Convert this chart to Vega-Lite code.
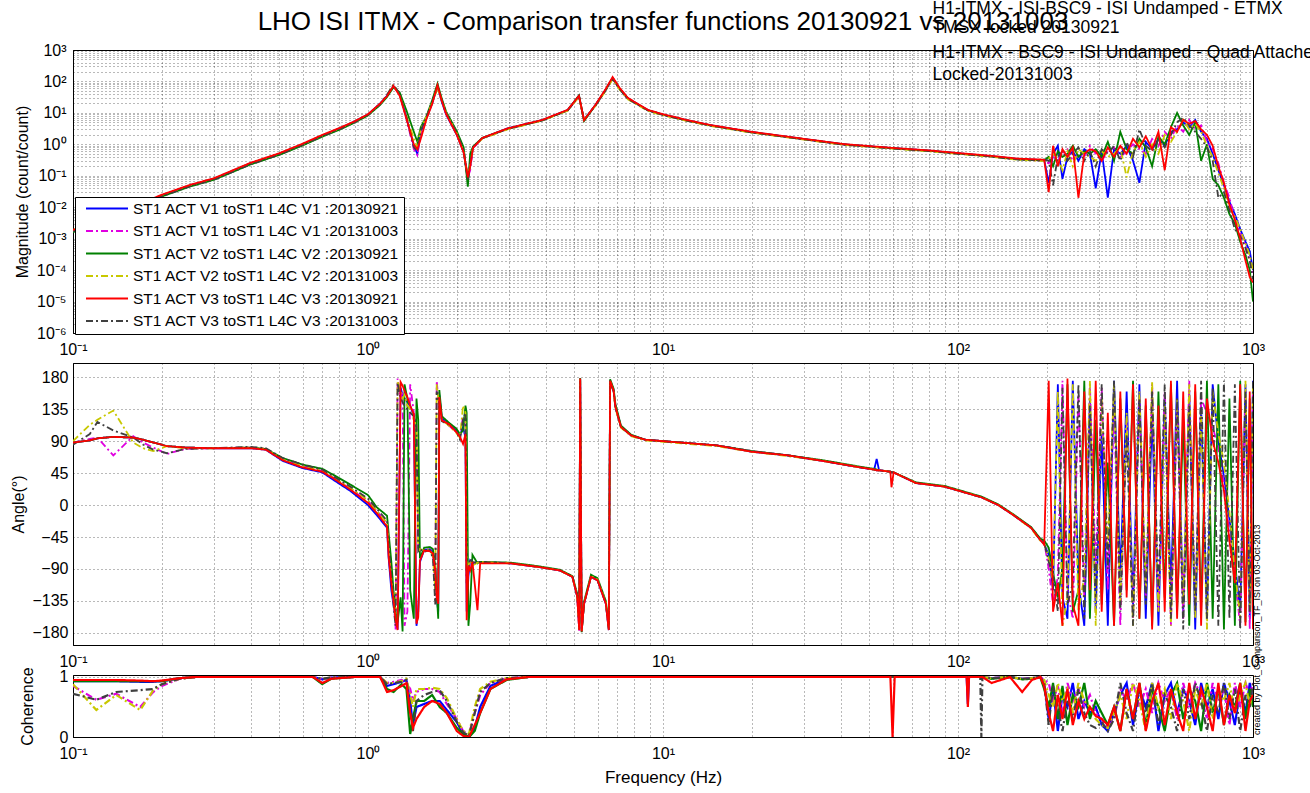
{
"$schema":"https://vega.github.io/schema/vega-lite/v6.json",
"autosize":{"type":"none"},
"padding":{"left":73,"top":50,"right":1237,"bottom":743},
"background":"white",
"config":{
 "font":"Liberation Sans",
 "view":{"stroke":"black","strokeWidth":1},
 "axis":{"labelFont":"Liberation Sans","labelFontSize":16,"labelColor":"black","titleFont":"Liberation Sans","titleFontSize":16,"titleFontWeight":"normal","titleColor":"black","grid":true,"gridColor":"black","gridDash":[1,3],"gridOpacity":0.55,"ticks":false,"domainColor":"black","labelOverlap":false,"labelFlush":false,"labelBound":false},
 "legend":{"orient":"none","legendX":2,"legendY":147,"fillColor":"white","strokeColor":"black","padding":4,"symbolType":"stroke","symbolSize":1764,"symbolStrokeWidth":2,"symbolOffset":6,"labelOffset":4,"labelFontSize":15.5,"labelFont":"Liberation Sans","labelColor":"black","labelLimit":400,"clipHeight":15,"rowPadding":6.5,"titlePadding":0}
},
"datasets":{
"mag":[
{"f":0.1,"b":0.0018,"m":0.0017,"g":0.0016,"y":0.0019,"k":0.0017,"r":0.0019},
{"f":0.125,"b":0.0041,"m":0.0039,"g":0.0037,"y":0.0042,"k":0.0038,"r":0.004},
{"f":0.15,"b":0.008,"m":0.0077,"g":0.0074,"y":0.0081,"k":0.0076,"r":0.0082},
{"f":0.2,"b":0.024,"m":0.023,"g":0.022,"y":0.024,"k":0.022,"r":0.025},
{"f":0.25,"b":0.05,"m":0.048,"g":0.046,"y":0.05,"k":0.047,"r":0.052},
{"f":0.3,"b":0.08,"m":0.077,"g":0.074,"y":0.079,"k":0.075,"r":0.083},
{"f":0.4,"b":0.25,"m":0.24,"g":0.23,"y":0.25,"k":0.23,"r":0.26},
{"f":0.5,"b":0.5,"m":0.48,"g":0.46,"y":0.5,"k":0.47,"r":0.52},
{"f":0.6,"b":1.0,"m":0.97,"g":0.92,"y":0.98,"k":0.95,"r":1.05},
{"f":0.7,"b":1.9,"m":1.85,"g":1.75,"y":1.85,"k":1.8,"r":2.0},
{"f":0.8,"b":3.2,"m":3.1,"g":2.9,"y":3.1,"k":3.0,"r":3.3},
{"f":0.9,"b":5.3,"m":5.1,"g":4.9,"y":5.1,"k":5.0,"r":5.4},
{"f":1.0,"b":8.9,"m":8.6,"g":8.3,"y":8.7,"k":8.5,"r":9.1},
{"f":1.1,"b":20,"m":19,"g":18,"y":19,"k":19,"r":20},
{"f":1.16,"b":35,"m":37,"g":32,"y":36,"k":38,"r":34},
{"f":1.22,"b":70,"m":76,"g":65,"y":80,"k":78,"r":72},
{"f":1.28,"b":42,"m":40,"g":45,"y":38,"k":40,"r":35},
{"f":1.35,"b":7,"m":6.5,"g":12,"y":8,"k":7.5,"r":6.5},
{"f":1.43,"b":0.9,"m":0.7,"g":2.5,"y":1.5,"k":0.8,"r":1.0},
{"f":1.47,"b":0.5,"m":0.45,"g":1.2,"y":0.8,"k":0.6,"r":0.7},
{"f":1.51,"b":2.5,"m":2.2,"g":3.5,"y":3.0,"k":2.8,"r":1.5},
{"f":1.58,"b":7.1,"m":7.5,"g":8,"y":7.8,"k":7.6,"r":6.5},
{"f":1.65,"b":20,"m":22,"g":25,"y":21,"k":22,"r":19},
{"f":1.72,"b":70,"m":65,"g":85,"y":60,"k":72,"r":76},
{"f":1.78,"b":22,"m":23,"g":28,"y":24,"k":25,"r":24},
{"f":1.84,"b":8.9,"m":9.5,"g":11,"y":10,"k":9.8,"r":9.2},
{"f":2.0,"b":2.0,"m":2.1,"g":2.6,"y":2.2,"k":2.3,"r":2.0},
{"f":2.11,"b":0.56,"m":0.6,"g":0.8,"y":0.55,"k":0.65,"r":0.55},
{"f":2.18,"b":0.08,"m":0.09,"g":0.045,"y":0.1,"k":0.07,"r":0.089},
{"f":2.22,"b":0.2,"m":0.15,"g":0.5,"y":0.2,"k":0.25,"r":0.2},
{"f":2.27,"b":0.79,"m":0.75,"g":0.85,"y":0.8,"k":0.82,"r":0.78},
{"f":2.44,"b":1.58,"m":1.55,"g":1.6,"y":1.5,"k":1.55,"r":1.6},
{"f":2.97,"b":3.2,"m":3.1,"g":3.1,"y":3.0,"k":3.1,"r":3.2},
{"f":3.9,"b":5.9,"m":5.8,"g":5.8,"y":5.7,"k":5.8,"r":6.0},
{"f":4.75,"b":12.3,"m":12,"g":12,"y":11.8,"k":12,"r":12.5},
{"f":5.19,"b":35,"m":33,"g":36,"y":32,"k":34,"r":35},
{"f":5.4,"b":5.9,"m":6.2,"g":5.5,"y":6.3,"k":6,"r":5.8},
{"f":5.9,"b":17.8,"m":17,"g":17.5,"y":16.5,"k":17,"r":18},
{"f":6.35,"b":50,"m":48,"g":49,"y":46,"k":48,"r":52},
{"f":6.75,"b":130,"m":125,"g":128,"y":118,"k":124,"r":138},
{"f":7.1,"b":62,"m":60,"g":61,"y":58,"k":60,"r":66},
{"f":7.6,"b":29,"m":28,"g":28.5,"y":27,"k":28,"r":30},
{"f":8.9,"b":12.2,"m":12,"g":12,"y":11.5,"k":11.9,"r":12.4},
{"f":10,"b":8.9,"m":8.7,"g":8.8,"y":8.4,"k":8.6,"r":9.1},
{"f":12,"b":5.9,"m":5.8,"g":5.8,"y":5.6,"k":5.7,"r":6.0},
{"f":14.4,"b":4.1,"m":4.0,"g":4.0,"y":3.9,"k":4.0,"r":4.15},
{"f":20,"b":2.45,"m":2.4,"g":2.4,"y":2.35,"k":2.4,"r":2.5},
{"f":30,"b":1.48,"m":1.45,"g":1.46,"y":1.42,"k":1.45,"r":1.5},
{"f":41,"b":1.0,"m":0.98,"g":0.99,"y":0.96,"k":0.98,"r":1.02},
{"f":60,"b":0.76,"m":0.75,"g":0.75,"y":0.73,"k":0.74,"r":0.77},
{"f":80,"b":0.63,"m":0.62,"g":0.62,"y":0.6,"k":0.61,"r":0.64},
{"f":100,"b":0.52,"m":0.51,"g":0.51,"y":0.5,"k":0.5,"r":0.53},
{"f":130,"b":0.42,"m":0.41,"g":0.41,"y":0.4,"k":0.41,"r":0.43},
{"f":160,"b":0.34,"m":0.33,"g":0.33,"y":0.32,"k":0.33,"r":0.35},
{"f":190,"b":0.32,"m":0.31,"g":0.31,"y":0.3,"k":0.31,"r":0.33},
{"f":196,"b":0.32,"m":0.3,"g":0.31,"y":0.3,"k":0.33,"r":0.32},
{"f":203,"b":0.06,"m":0.25,"g":0.4,"y":0.35,"k":0.3,"r":0.03},
{"f":210,"b":0.5,"m":0.4,"g":0.2,"y":0.5,"k":0.05,"r":0.9},
{"f":218,"b":0.9,"m":0.3,"g":0.6,"y":0.35,"k":0.4,"r":0.2},
{"f":226,"b":0.08,"m":0.5,"g":0.4,"y":0.15,"k":0.6,"r":0.7},
{"f":235,"b":0.4,"m":0.7,"g":0.5,"y":0.6,"k":0.3,"r":0.4},
{"f":245,"b":0.6,"m":0.3,"g":0.9,"y":0.2,"k":0.5,"r":0.8},
{"f":256,"b":0.3,"m":0.5,"g":0.4,"y":0.7,"k":0.8,"r":0.02},
{"f":268,"b":0.7,"m":0.4,"g":0.6,"y":0.5,"k":0.3,"r":0.5},
{"f":280,"b":0.5,"m":0.9,"g":0.5,"y":0.4,"k":0.6,"r":0.7},
{"f":293,"b":0.04,"m":0.5,"g":0.7,"y":0.3,"k":0.2,"r":0.6},
{"f":307,"b":0.6,"m":0.3,"g":0.4,"y":0.6,"k":0.7,"r":0.3},
{"f":322,"b":0.02,"m":0.6,"g":1.2,"y":0.4,"k":0.5,"r":0.8},
{"f":338,"b":0.7,"m":0.8,"g":0.3,"y":0.5,"k":0.9,"r":0.4},
{"f":355,"b":0.5,"m":0.4,"g":2.5,"y":0.8,"k":0.3,"r":0.9},
{"f":373,"b":0.9,"m":0.6,"g":0.7,"y":0.09,"k":1.2,"r":0.5},
{"f":392,"b":0.3,"m":1.0,"g":0.5,"y":0.6,"k":0.4,"r":1.5},
{"f":412,"b":0.06,"m":0.7,"g":1.5,"y":1.2,"k":3,"r":0.8},
{"f":433,"b":1.2,"m":0.5,"g":0.8,"y":0.4,"k":0.9,"r":1.8},
{"f":455,"b":0.7,"m":1.5,"g":0.2,"y":1.0,"k":0.6,"r":0.7},
{"f":478,"b":1.5,"m":0.9,"g":1.8,"y":0.5,"k":1.4,"r":2.5},
{"f":502,"b":0.9,"m":2.5,"g":1.0,"y":2,"k":0.8,"r":0.15},
{"f":527,"b":2.5,"m":1.5,"g":3.5,"y":1.2,"k":2.0,"r":3.5},
{"f":553,"b":3,"m":4,"g":10,"y":2.5,"k":5,"r":2.5},
{"f":580,"b":5,"m":2.5,"g":4,"y":6,"k":7,"r":6},
{"f":608,"b":3.5,"m":6,"g":2,"y":3,"k":4,"r":4.5},
{"f":637,"b":6,"m":3,"g":5,"y":4.5,"k":2.5,"r":5.5},
{"f":667,"b":2.5,"m":4,"g":0.3,"y":2.5,"k":1.5,"r":3},
{"f":698,"b":1.5,"m":1.2,"g":1.0,"y":0.9,"k":0.8,"r":2.0},
{"f":730,"b":0.5,"m":0.7,"g":0.08,"y":0.4,"k":0.3,"r":0.9},
{"f":763,"b":0.15,"m":0.25,"g":0.05,"y":0.12,"k":0.02,"r":0.2},
{"f":797,"b":0.05,"m":0.06,"g":0.02,"y":0.04,"k":0.03,"r":0.06},
{"f":832,"b":0.015,"m":0.02,"g":0.006,"y":0.01,"k":0.008,"r":0.012},
{"f":868,"b":0.006,"m":0.004,"g":0.003,"y":0.005,"k":0.002,"r":0.004},
{"f":905,"b":0.002,"m":0.0015,"g":0.0008,"y":0.002,"k":0.0012,"r":0.001},
{"f":943,"b":0.0008,"m":0.0006,"g":0.0003,"y":0.0007,"k":0.0005,"r":0.0002},
{"f":975,"b":0.0004,"m":0.0002,"g":0.0001,"y":0.0003,"k":0.0002,"r":0.00006},
{"f":1000,"b":0.0001,"m":0.00008,"g":0.00001,"y":0.0001,"k":0.00005,"r":0.00004}
],
"ph":[
{"f":0.1,"b":88,"m":88,"g":88,"y":90,"k":85,"r":88},
{"f":0.114,"b":91,"m":93,"g":91,"y":113,"k":100,"r":91},
{"f":0.121,"b":94,"m":95,"g":94,"y":120,"k":117,"r":94},
{"f":0.137,"b":96,"m":70,"g":96,"y":133,"k":105,"r":96},
{"f":0.16,"b":95,"m":97,"g":95,"y":88,"k":95,"r":95},
{"f":0.173,"b":92,"m":88,"g":92,"y":80,"k":85,"r":92},
{"f":0.187,"b":88,"m":81,"g":88,"y":76,"k":78,"r":88},
{"f":0.208,"b":83,"m":72,"g":83,"y":83,"k":73,"r":83},
{"f":0.24,"b":81,"m":79,"g":81,"y":80,"k":79,"r":81},
{"f":0.3,"b":80,"m":80,"g":80,"y":80,"k":80,"r":80},
{"f":0.4,"b":80,"m":81,"g":81,"y":81,"k":82,"r":80},
{"f":0.45,"b":78,"m":79,"g":79,"y":79,"k":80,"r":78},
{"f":0.515,"b":62,"m":64,"g":66,"y":64,"k":66,"r":63},
{"f":0.6,"b":52,"m":55,"g":57,"y":55,"k":57,"r":53},
{"f":0.7,"b":46,"m":48,"g":51,"y":48,"k":50,"r":47},
{"f":0.76,"b":36,"m":39,"g":43,"y":39,"k":41,"r":38},
{"f":0.87,"b":20,"m":23,"g":29,"y":24,"k":26,"r":22},
{"f":1.0,"b":0,"m":5,"g":14,"y":7,"k":9,"r":3},
{"f":1.07,"b":-14,"m":-8,"g":-3,"y":-8,"k":-5,"r":-11},
{"f":1.16,"b":-32,"m":-26,"g":-15,"y":-25,"k":-22,"r":-30},
{"f":1.175,"b":-75,"m":-60,"g":-40,"y":-60,"k":-55,"r":-73},
{"f":1.2,"b":-120,"m":-100,"g":-80,"y":-105,"k":-100,"r":-110},
{"f":1.22,"b":-140,"m":-130,"g":-120,"y":-135,"k":-140,"r":-134},
{"f":1.24,"b":-160,"m":-175,"g":-150,"y":-160,"k":-170,"r":-160},
{"f":1.26,"b":-175,"m":178,"g":-165,"y":175,"k":172,"r":-176},
{"f":1.29,"b":165,"m":150,"g":-130,"y":160,"k":150,"r":173},
{"f":1.31,"b":155,"m":160,"g":-178,"y":150,"k":145,"r":168},
{"f":1.33,"b":150,"m":-170,"g":170,"y":155,"k":140,"r":161},
{"f":1.36,"b":145,"m":-150,"g":150,"y":140,"k":135,"r":152},
{"f":1.39,"b":140,"m":170,"g":-120,"y":135,"k":130,"r":140},
{"f":1.43,"b":125,"m":130,"g":-160,"y":120,"k":125,"r":128},
{"f":1.46,"b":-170,"m":115,"g":150,"y":110,"k":110,"r":-167},
{"f":1.48,"b":-150,"m":-60,"g":120,"y":-65,"k":-65,"r":-158},
{"f":1.5,"b":-80,"m":-62,"g":-75,"y":-62,"k":-62,"r":-78},
{"f":1.55,"b":-63,"m":-65,"g":-60,"y":-64,"k":-66,"r":-64},
{"f":1.62,"b":-62,"m":-63,"g":-59,"y":-62,"k":-63,"r":-65},
{"f":1.66,"b":-66,"m":-70,"g":-62,"y":-72,"k":-75,"r":-68},
{"f":1.69,"b":-90,"m":-110,"g":-85,"y":-120,"k":-140,"r":-92},
{"f":1.71,"b":-130,"m":175,"g":-125,"y":170,"k":160,"r":-130},
{"f":1.73,"b":-150,"m":150,"g":-160,"y":150,"k":150,"r":-139},
{"f":1.745,"b":155,"m":140,"g":162,"y":135,"k":140,"r":152},
{"f":1.78,"b":122,"m":120,"g":125,"y":120,"k":118,"r":119},
{"f":1.88,"b":114,"m":112,"g":116,"y":112,"k":113,"r":114},
{"f":1.99,"b":105,"m":103,"g":108,"y":102,"k":104,"r":103},
{"f":2.05,"b":98,"m":96,"g":100,"y":95,"k":92,"r":96},
{"f":2.1,"b":110,"m":125,"g":105,"y":140,"k":120,"r":86},
{"f":2.14,"b":95,"m":110,"g":140,"y":130,"k":130,"r":100},
{"f":2.16,"b":-150,"m":-100,"g":130,"y":-95,"k":-110,"r":-162},
{"f":2.19,"b":-100,"m":-82,"g":-170,"y":-85,"k":-90,"r":-85},
{"f":2.22,"b":-78,"m":-80,"g":-140,"y":-78,"k":-75,"r":-92},
{"f":2.26,"b":-82,"m":-80,"g":-70,"y":-85,"k":-80,"r":-80},
{"f":2.35,"b":-80,"m":-82,"g":-82,"y":-81,"k":-82,"r":-148},
{"f":2.4,"b":-80,"m":-80,"g":-80,"y":-80,"k":-80,"r":-82},
{"f":3.03,"b":-82,"m":-82,"g":-81,"y":-82,"k":-82,"r":-82},
{"f":3.77,"b":-87,"m":-87,"g":-86,"y":-87,"k":-87,"r":-87},
{"f":4.47,"b":-92,"m":-92,"g":-91,"y":-92,"k":-92,"r":-92},
{"f":4.93,"b":-101,"m":-101,"g":-100,"y":-101,"k":-101,"r":-101},
{"f":5.12,"b":-129,"m":-128,"g":-125,"y":-128,"k":-128,"r":-129},
{"f":5.2,"b":-170,"m":-178,"g":-165,"y":-175,"k":-176,"r":-176},
{"f":5.24,"b":178,"m":176,"g":179,"y":177,"k":175,"r":178},
{"f":5.3,"b":-178,"m":-177,"g":-179,"y":-178,"k":-176,"r":-178},
{"f":5.4,"b":-139,"m":-138,"g":-136,"y":-138,"k":-139,"r":-139},
{"f":5.7,"b":-101,"m":-100,"g":-98,"y":-100,"k":-101,"r":-101},
{"f":6.0,"b":-106,"m":-105,"g":-103,"y":-105,"k":-106,"r":-106},
{"f":6.4,"b":-139,"m":-137,"g":-135,"y":-137,"k":-138,"r":-139},
{"f":6.55,"b":-176,"m":-172,"g":-170,"y":-174,"k":-175,"r":-176},
{"f":6.62,"b":175,"m":176,"g":177,"y":174,"k":172,"r":175},
{"f":6.8,"b":161,"m":162,"g":164,"y":160,"k":160,"r":161},
{"f":6.9,"b":138,"m":140,"g":142,"y":136,"k":137,"r":138},
{"f":7.2,"b":110,"m":111,"g":112,"y":109,"k":110,"r":110},
{"f":7.8,"b":98,"m":98,"g":99,"y":97,"k":98,"r":98},
{"f":8.7,"b":92,"m":92,"g":92,"y":91,"k":92,"r":92},
{"f":10,"b":90,"m":90,"g":90,"y":89,"k":90,"r":90},
{"f":15.2,"b":84,"m":84,"g":84,"y":83,"k":84,"r":84},
{"f":20,"b":75,"m":76,"g":76,"y":75,"k":76,"r":75},
{"f":26.5,"b":70,"m":70,"g":70,"y":69,"k":70,"r":70},
{"f":35,"b":62,"m":62,"g":63,"y":62,"k":62,"r":62},
{"f":46.6,"b":53,"m":53,"g":54,"y":53,"k":53,"r":53},
{"f":52,"b":50,"m":50,"g":51,"y":50,"k":50,"r":50},
{"f":53,"b":65,"m":49,"g":50,"y":49,"k":49,"r":49},
{"f":54,"b":49,"m":49,"g":49,"y":49,"k":49,"r":49},
{"f":59,"b":47,"m":47,"g":47,"y":47,"k":47,"r":47},
{"f":59.5,"b":46,"m":46,"g":46,"y":46,"k":46,"r":25},
{"f":60.5,"b":46,"m":46,"g":46,"y":46,"k":46,"r":46},
{"f":72,"b":31,"m":31,"g":32,"y":31,"k":31,"r":31},
{"f":90,"b":26,"m":26,"g":27,"y":26,"k":26,"r":26},
{"f":120,"b":11,"m":11,"g":12,"y":11,"k":11,"r":11},
{"f":137,"b":0,"m":0,"g":1,"y":0,"k":0,"r":0},
{"f":154,"b":-14,"m":-14,"g":-13,"y":-14,"k":-14,"r":-14},
{"f":177,"b":-32,"m":-32,"g":-31,"y":-33,"k":-32,"r":-32},
{"f":190,"b":-49,"m":-48,"g":-47,"y":-50,"k":-49,"r":-49},
{"f":196,"b":-55,"m":-52,"g":-50,"y":-54,"k":-53,"r":-56},
{"f":203,"b":-70,"m":-90,"g":-60,"y":-75,"k":-80,"r":175},
{"f":210,"b":-120,"m":-140,"g":-95,"y":-110,"k":-100,"r":-150},
{"f":218,"b":170,"m":-100,"g":-130,"y":160,"k":-150,"r":-110},
{"f":226,"b":-130,"m":175,"g":-90,"y":-170,"k":165,"r":-170},
{"f":235,"b":-160,"m":-120,"g":170,"y":-130,"k":-140,"r":178},
{"f":245,"b":175,"m":-160,"g":-150,"y":170,"k":-110,"r":-140},
{"f":256,"b":-110,"m":160,"g":-120,"y":-150,"k":170,"r":-170},
{"f":268,"b":-170,"m":-130,"g":175,"y":-100,"k":-160,"r":160},
{"f":280,"b":150,"m":170,"g":-160,"y":175,"k":140,"r":-120},
{"f":293,"b":-150,"m":-90,"g":120,"y":-170,"k":-130,"r":175},
{"f":307,"b":100,"m":165,"g":-140,"y":150,"k":170,"r":-150},
{"f":322,"b":-170,"m":-120,"g":60,"y":-60,"k":-90,"r":130},
{"f":338,"b":175,"m":140,"g":-170,"y":170,"k":175,"r":-170},
{"f":355,"b":-100,"m":-170,"g":150,"y":-140,"k":-150,"r":160},
{"f":373,"b":160,"m":120,"g":-120,"y":130,"k":100,"r":-130},
{"f":392,"b":-140,"m":-160,"g":175,"y":-170,"k":-170,"r":170},
{"f":412,"b":170,"m":150,"g":-160,"y":160,"k":150,"r":-160},
{"f":433,"b":-160,"m":-130,"g":140,"y":-120,"k":-140,"r":150},
{"f":455,"b":130,"m":170,"g":-170,"y":175,"k":160,"r":-175},
{"f":478,"b":-170,"m":-150,"g":160,"y":-150,"k":-120,"r":140},
{"f":502,"b":150,"m":160,"g":-130,"y":140,"k":170,"r":-150},
{"f":527,"b":-120,"m":-170,"g":170,"y":-170,"k":-160,"r":175},
{"f":553,"b":175,"m":140,"g":-150,"y":150,"k":150,"r":-160},
{"f":580,"b":-150,"m":-160,"g":120,"y":-140,"k":-175,"r":160},
{"f":608,"b":160,"m":175,"g":-170,"y":170,"k":140,"r":-140},
{"f":637,"b":-175,"m":-140,"g":160,"y":-160,"k":-150,"r":170},
{"f":667,"b":140,"m":150,"g":-150,"y":130,"k":175,"r":-170},
{"f":698,"b":-160,"m":130,"g":175,"y":-175,"k":-160,"r":150},
{"f":730,"b":170,"m":110,"g":-160,"y":160,"k":165,"r":90},
{"f":763,"b":90,"m":80,"g":170,"y":100,"k":-170,"r":60},
{"f":797,"b":40,"m":30,"g":-175,"y":60,"k":175,"r":20},
{"f":832,"b":-20,"m":-40,"g":150,"y":-10,"k":-160,"r":-50},
{"f":868,"b":-80,"m":-100,"g":-170,"y":-90,"k":170,"r":-110},
{"f":905,"b":-150,"m":-170,"g":175,"y":-160,"k":-175,"r":170},
{"f":943,"b":170,"m":160,"g":-165,"y":175,"k":160,"r":-170},
{"f":975,"b":-160,"m":-175,"g":150,"y":-150,"k":-150,"r":160},
{"f":1000,"b":175,"m":165,"g":-170,"y":170,"k":175,"r":-175}
],
"coh":[
{"f":0.1,"b":0.93,"m":0.85,"g":0.93,"y":0.88,"k":0.72,"r":0.95},
{"f":0.12,"b":0.93,"m":0.62,"g":0.93,"y":0.45,"k":0.62,"r":0.95},
{"f":0.14,"b":0.93,"m":0.72,"g":0.93,"y":0.7,"k":0.75,"r":0.95},
{"f":0.169,"b":0.92,"m":0.5,"g":0.93,"y":0.45,"k":0.78,"r":0.94},
{"f":0.187,"b":0.92,"m":0.75,"g":0.93,"y":0.78,"k":0.8,"r":0.93},
{"f":0.2,"b":0.93,"m":0.85,"g":0.93,"y":0.88,"k":0.88,"r":0.94},
{"f":0.23,"b":0.98,"m":0.97,"g":0.98,"y":0.97,"k":0.97,"r":0.98},
{"f":0.26,"b":1,"m":1,"g":1,"y":1,"k":1,"r":1},
{"f":0.65,"b":1,"m":1,"g":1,"y":1,"k":1,"r":1},
{"f":0.7,"b":0.96,"m":0.97,"g":0.88,"y":0.97,"k":0.97,"r":0.9},
{"f":0.75,"b":0.99,"m":0.99,"g":0.97,"y":0.99,"k":0.99,"r":0.97},
{"f":0.9,"b":1,"m":1,"g":1,"y":1,"k":1,"r":1},
{"f":1.1,"b":1,"m":1,"g":1,"y":1,"k":1,"r":1},
{"f":1.16,"b":0.85,"m":0.9,"g":0.8,"y":0.9,"k":0.88,"r":0.75},
{"f":1.22,"b":0.88,"m":0.92,"g":0.75,"y":0.9,"k":0.9,"r":0.78},
{"f":1.3,"b":0.92,"m":0.95,"g":0.88,"y":0.93,"k":0.92,"r":0.85},
{"f":1.35,"b":0.95,"m":0.9,"g":0.8,"y":0.97,"k":0.95,"r":0.9},
{"f":1.39,"b":0.6,"m":0.8,"g":0.05,"y":0.7,"k":0.5,"r":0.4},
{"f":1.42,"b":0.2,"m":0.6,"g":0.3,"y":0.5,"k":0.1,"r":0.15},
{"f":1.46,"b":0.5,"m":0.75,"g":0.6,"y":0.8,"k":0.6,"r":0.3},
{"f":1.55,"b":0.55,"m":0.8,"g":0.6,"y":0.8,"k":0.7,"r":0.5},
{"f":1.65,"b":0.6,"m":0.8,"g":0.7,"y":0.82,"k":0.75,"r":0.6},
{"f":1.75,"b":0.6,"m":0.75,"g":0.5,"y":0.8,"k":0.78,"r":0.55},
{"f":1.85,"b":0.45,"m":0.55,"g":0.4,"y":0.65,"k":0.6,"r":0.4},
{"f":2.0,"b":0.25,"m":0.3,"g":0.15,"y":0.3,"k":0.25,"r":0.1},
{"f":2.1,"b":0.05,"m":0.1,"g":0.05,"y":0.1,"k":0.08,"r":0.02},
{"f":2.2,"b":0,"m":0.05,"g":0,"y":0.05,"k":0.02,"r":0},
{"f":2.3,"b":0.15,"m":0.4,"g":0.1,"y":0.5,"k":0.4,"r":0.2},
{"f":2.4,"b":0.5,"m":0.7,"g":0.4,"y":0.8,"k":0.75,"r":0.4},
{"f":2.6,"b":0.85,"m":0.9,"g":0.8,"y":0.92,"k":0.9,"r":0.8},
{"f":2.95,"b":0.97,"m":0.98,"g":0.95,"y":0.98,"k":0.98,"r":0.96},
{"f":3.5,"b":1,"m":1,"g":1,"y":1,"k":1,"r":1},
{"f":59,"b":1,"m":1,"g":1,"y":1,"k":1,"r":1},
{"f":60,"b":1,"m":1,"g":1,"y":1,"k":1,"r":0},
{"f":61,"b":1,"m":1,"g":1,"y":1,"k":1,"r":1},
{"f":107,"b":1,"m":1,"g":1,"y":1,"k":1,"r":1},
{"f":108,"b":0.55,"m":1,"g":1,"y":1,"k":1,"r":0.5},
{"f":109,"b":1,"m":1,"g":1,"y":1,"k":1,"r":1},
{"f":119,"b":1,"m":1,"g":1,"y":1,"k":1,"r":1},
{"f":120,"b":1,"m":1,"g":1,"y":1,"k":0,"r":1},
{"f":121,"b":1,"m":1,"g":1,"y":1,"k":1,"r":1},
{"f":130,"b":0.98,"m":0.98,"g":0.97,"y":0.98,"k":0.98,"r":0.9},
{"f":150,"b":1,"m":1,"g":1,"y":1,"k":1,"r":1},
{"f":165,"b":0.97,"m":0.97,"g":0.96,"y":0.97,"k":0.97,"r":0.75},
{"f":178,"b":0.98,"m":0.98,"g":0.97,"y":0.98,"k":0.98,"r":0.95},
{"f":190,"b":1,"m":1,"g":1,"y":1,"k":1,"r":1},
{"f":196,"b":0.9,"m":0.95,"g":0.8,"y":0.95,"k":0.9,"r":0.85},
{"f":203,"b":0.3,"m":0.9,"g":0.5,"y":0.7,"k":0.2,"r":0.4},
{"f":210,"b":0.8,"m":0.6,"g":0.9,"y":0.5,"k":0.85,"r":0.1},
{"f":218,"b":0.1,"m":0.85,"g":0.3,"y":0.9,"k":0.5,"r":0.7},
{"f":226,"b":0.7,"m":0.4,"g":0.85,"y":0.6,"k":0.1,"r":0.3},
{"f":235,"b":0.5,"m":0.9,"g":0.2,"y":0.8,"k":0.6,"r":0.8},
{"f":245,"b":0.9,"m":0.6,"g":0.7,"y":0.4,"k":0.3,"r":0.2},
{"f":256,"b":0.3,"m":0.8,"g":0.5,"y":0.9,"k":0.8,"r":0.6},
{"f":268,"b":0.6,"m":0.5,"g":0.9,"y":0.6,"k":0.4,"r":0.3},
{"f":280,"b":0.4,"m":0.7,"g":0.3,"y":0.5,"k":0.2,"r":0.5},
{"f":293,"b":0.5,"m":0.4,"g":0.6,"y":0.3,"k":0.15,"r":0.35},
{"f":307,"b":0.2,"m":0.3,"g":0.4,"y":0.2,"k":0.25,"r":0.3},
{"f":322,"b":0.1,"m":0.15,"g":0.2,"y":0.15,"k":0.1,"r":0.2},
{"f":338,"b":0.4,"m":0.3,"g":0.5,"y":0.4,"k":0.3,"r":0.5},
{"f":355,"b":0.7,"m":0.8,"g":0.1,"y":0.7,"k":0.9,"r":0.1},
{"f":373,"b":0.9,"m":0.6,"g":0.8,"y":0.3,"k":0.4,"r":0.8},
{"f":392,"b":0.2,"m":0.9,"g":0.3,"y":0.9,"k":0.1,"r":0.3},
{"f":412,"b":0.8,"m":0.5,"g":0.9,"y":0.6,"k":0.8,"r":0.9},
{"f":433,"b":0.5,"m":0.8,"g":0.2,"y":0.1,"k":0.4,"r":0.1},
{"f":455,"b":0.9,"m":0.4,"g":0.8,"y":0.9,"k":0.9,"r":0.6},
{"f":478,"b":0.1,"m":0.9,"g":0.5,"y":0.5,"k":0.2,"r":0.9},
{"f":502,"b":0.7,"m":0.6,"g":0.1,"y":0.8,"k":0.7,"r":0.2},
{"f":527,"b":0.9,"m":0.8,"g":0.7,"y":0.3,"k":0.5,"r":0.8},
{"f":553,"b":0.4,"m":0.3,"g":0.9,"y":0.9,"k":0.1,"r":0.4},
{"f":580,"b":0.8,"m":0.9,"g":0.3,"y":0.6,"k":0.8,"r":0.1},
{"f":608,"b":0.6,"m":0.5,"g":0.8,"y":0.1,"k":0.3,"r":0.9},
{"f":637,"b":0.2,"m":0.9,"g":0.6,"y":0.8,"k":0.9,"r":0.3},
{"f":667,"b":0.9,"m":0.7,"g":0.1,"y":0.5,"k":0.6,"r":0.8},
{"f":698,"b":0.5,"m":0.3,"g":0.9,"y":0.9,"k":0.1,"r":0.5},
{"f":730,"b":0.8,"m":0.9,"g":0.4,"y":0.3,"k":0.7,"r":0.1},
{"f":763,"b":0.3,"m":0.6,"g":0.8,"y":0.8,"k":0.4,"r":0.9},
{"f":797,"b":0.9,"m":0.8,"g":0.2,"y":0.6,"k":0.9,"r":0.2},
{"f":832,"b":0.6,"m":0.2,"g":0.7,"y":0.9,"k":0.3,"r":0.7},
{"f":868,"b":0.2,"m":0.9,"g":0.5,"y":0.4,"k":0.8,"r":0.4},
{"f":905,"b":0.8,"m":0.5,"g":0.9,"y":0.7,"k":0.1,"r":0.9},
{"f":943,"b":0.4,"m":0.9,"g":0.3,"y":0.9,"k":0.7,"r":0.1},
{"f":975,"b":0.9,"m":0.7,"g":0.8,"y":0.5,"k":0.5,"r":0.6},
{"f":1000,"b":0.6,"m":0.9,"g":0.5,"y":0.8,"k":0.9,"r":0.7}
],
"note":[
{"f":82,"v":14000,"t":"H1-ITMX - ISI-BSC9 - ISI Undamped - ETMX"},
{"f":82,"v":3470,"t":"TMSX locked 20130921"},
{"f":82,"v":556,"t":"H1-ITMX - BSC9 - ISI Undamped - Quad Attached"},
{"f":82,"v":110,"t":"Locked-20131003"}
],
"head":[{"f":10,"v":4340,"t":"LHO ISI ITMX - Comparison transfer functions 20130921 vs 20131003"}],
"credit":[{"f":1000,"v":0,"t":"created by Plot_Comparison_TF_ISI on 03-Oct-2013"}]
},
"resolve":{"scale":{"color":"shared","strokeDash":"shared"},"legend":{"color":"shared","strokeDash":"shared"}},
"spacing":30,
"bounds":"flush",
"vconcat":[
{
 "width":1180,"height":283,
 "layer":[
  {
   "data":{"name":"mag"},
   "transform":[{"fold":["b","m","g","y","k","r"],"as":["s","v"]}],
   "mark":{"type":"line","strokeWidth":1.8,"clip":true},
   "encoding":{
    "x":{"field":"f","type":"quantitative","scale":{"type":"log","domain":[0.1,1000],"nice":false},
     "axis":{"title":null,"labelPadding":8,"values":[0.1,0.2,0.3,0.4,0.5,0.6,0.7,0.8,0.9,1,2,3,4,5,6,7,8,9,10,20,30,40,50,60,70,80,90,100,200,300,400,500,600,700,800,900,1000],
      "labelExpr":"datum.value==0.1?'10⁻¹':datum.value==1?'10⁰':datum.value==10?'10¹':datum.value==100?'10²':datum.value==1000?'10³':''"}},
    "y":{"field":"v","type":"quantitative","scale":{"type":"log","domain":[0.000001,1000],"nice":false},
     "axis":{"title":"Magnitude (count/count)","titleX":-51,"titleY":141.5,"titleAngle":270,"titleBaseline":"middle","labelPadding":7,
      "values":[0.000001,0.000002,0.000003,0.000004,0.000005,0.000006,0.000007,0.000008,0.000009,0.00001,0.00002,0.00003,0.00004,0.00005,0.00006,0.00007,0.00008,0.00009,0.0001,0.0002,0.0003,0.0004,0.0005,0.0006,0.0007,0.0008,0.0009,0.001,0.002,0.003,0.004,0.005,0.006,0.007,0.008,0.009,0.01,0.02,0.03,0.04,0.05,0.06,0.07,0.08,0.09,0.1,0.2,0.3,0.4,0.5,0.6,0.7,0.8,0.9,1,2,3,4,5,6,7,8,9,10,20,30,40,50,60,70,80,90,100,200,300,400,500,600,700,800,900,1000],
      "labelExpr":"datum.value==0.000001?'10⁻⁶':datum.value==0.00001?'10⁻⁵':datum.value==0.0001?'10⁻⁴':datum.value==0.001?'10⁻³':datum.value==0.01?'10⁻²':datum.value==0.1?'10⁻¹':datum.value==1?'10⁰':datum.value==10?'10¹':datum.value==100?'10²':datum.value==1000?'10³':''"}},
    "color":{"field":"s","type":"nominal","scale":{"domain":["b","m","g","y","r","k"],"range":["#0000FF","#E000E0","#008000","#C8C800","#FF0000","#404040"]},
     "legend":{"title":null,"labelExpr":"datum.value=='b'?'ST1 ACT V1 toST1 L4C V1 :20130921':datum.value=='m'?'ST1 ACT V1 toST1 L4C V1 :20131003':datum.value=='g'?'ST1 ACT V2 toST1 L4C V2 :20130921':datum.value=='y'?'ST1 ACT V2 toST1 L4C V2 :20131003':datum.value=='r'?'ST1 ACT V3 toST1 L4C V3 :20130921':'ST1 ACT V3 toST1 L4C V3 :20131003'"}},
    "strokeDash":{"field":"s","type":"nominal","scale":{"domain":["b","m","g","y","r","k"],"range":[[1,0],[7,3,2,3],[1,0],[7,3,2,3],[1,0],[7,3,2,3]]},
     "legend":{"title":null,"labelExpr":"datum.value=='b'?'ST1 ACT V1 toST1 L4C V1 :20130921':datum.value=='m'?'ST1 ACT V1 toST1 L4C V1 :20131003':datum.value=='g'?'ST1 ACT V2 toST1 L4C V2 :20130921':datum.value=='y'?'ST1 ACT V2 toST1 L4C V2 :20131003':datum.value=='r'?'ST1 ACT V3 toST1 L4C V3 :20130921':'ST1 ACT V3 toST1 L4C V3 :20131003'"}}
   }
  },
  {
   "data":{"name":"note"},
   "mark":{"type":"text","align":"left","baseline":"alphabetic","fontSize":17.5,"font":"Liberation Sans","color":"black","clip":false},
   "encoding":{"x":{"field":"f","type":"quantitative"},"y":{"field":"v","type":"quantitative"},"text":{"field":"t"}}
  },
  {
   "data":{"name":"head"},
   "mark":{"type":"text","align":"center","baseline":"alphabetic","fontSize":26,"font":"Liberation Sans","color":"black","clip":false},
   "encoding":{"x":{"field":"f","type":"quantitative"},"y":{"field":"v","type":"quantitative"},"text":{"field":"t"}}
  }
 ]
},
{
 "width":1180,"height":282,
 "data":{"name":"ph"},
 "transform":[{"fold":["b","m","g","y","k","r"],"as":["s","v"]}],
 "mark":{"type":"line","strokeWidth":1.8,"clip":true},
 "encoding":{
  "x":{"field":"f","type":"quantitative","scale":{"type":"log","domain":[0.1,1000],"nice":false},
   "axis":{"title":null,"labelPadding":8,"values":[0.1,0.2,0.3,0.4,0.5,0.6,0.7,0.8,0.9,1,2,3,4,5,6,7,8,9,10,20,30,40,50,60,70,80,90,100,200,300,400,500,600,700,800,900,1000],
    "labelExpr":"datum.value==0.1?'10⁻¹':datum.value==1?'10⁰':datum.value==10?'10¹':datum.value==100?'10²':datum.value==1000?'10³':''"}},
  "y":{"field":"v","type":"quantitative","scale":{"domain":[-197,200],"nice":false,"zero":false},
   "axis":{"title":"Angle(°)","titleX":-55,"titleY":141,"titleAngle":270,"titleBaseline":"middle","labelPadding":5,"values":[-180,-135,-90,-45,0,45,90,135,180]}},
  "color":{"field":"s","type":"nominal","scale":{"domain":["b","m","g","y","r","k"],"range":["#0000FF","#E000E0","#008000","#C8C800","#FF0000","#404040"]},
   "legend":{"title":null,"labelExpr":"datum.value=='b'?'ST1 ACT V1 toST1 L4C V1 :20130921':datum.value=='m'?'ST1 ACT V1 toST1 L4C V1 :20131003':datum.value=='g'?'ST1 ACT V2 toST1 L4C V2 :20130921':datum.value=='y'?'ST1 ACT V2 toST1 L4C V2 :20131003':datum.value=='r'?'ST1 ACT V3 toST1 L4C V3 :20130921':'ST1 ACT V3 toST1 L4C V3 :20131003'"}},
  "strokeDash":{"field":"s","type":"nominal","scale":{"domain":["b","m","g","y","r","k"],"range":[[1,0],[7,3,2,3],[1,0],[7,3,2,3],[1,0],[7,3,2,3]]},
   "legend":{"title":null,"labelExpr":"datum.value=='b'?'ST1 ACT V1 toST1 L4C V1 :20130921':datum.value=='m'?'ST1 ACT V1 toST1 L4C V1 :20131003':datum.value=='g'?'ST1 ACT V2 toST1 L4C V2 :20130921':datum.value=='y'?'ST1 ACT V2 toST1 L4C V2 :20131003':datum.value=='r'?'ST1 ACT V3 toST1 L4C V3 :20130921':'ST1 ACT V3 toST1 L4C V3 :20131003'"}}
 }
},
{
 "width":1180,"height":62,
 "layer":[
  {
   "data":{"name":"coh"},
   "transform":[{"fold":["b","m","g","y","k","r"],"as":["s","v"]}],
   "mark":{"type":"line","strokeWidth":2.2,"clip":true},
   "encoding":{
    "x":{"field":"f","type":"quantitative","scale":{"type":"log","domain":[0.1,1000],"nice":false},
     "axis":{"title":"Frequency (Hz)","titleFontSize":17,"titleY":40,"titleBaseline":"middle","labelPadding":8,"values":[0.1,0.2,0.3,0.4,0.5,0.6,0.7,0.8,0.9,1,2,3,4,5,6,7,8,9,10,20,30,40,50,60,70,80,90,100,200,300,400,500,600,700,800,900,1000],
      "labelExpr":"datum.value==0.1?'10⁻¹':datum.value==1?'10⁰':datum.value==10?'10¹':datum.value==100?'10²':datum.value==1000?'10³':''"}},
    "y":{"field":"v","type":"quantitative","scale":{"domain":[0,1.033],"nice":false},
     "axis":{"title":"Coherence","titleX":-46,"titleY":31,"titleAngle":270,"titleBaseline":"middle","labelPadding":5,"values":[0,0.5,1],"format":"~g"}},
    "color":{"field":"s","type":"nominal","scale":{"domain":["b","m","g","y","r","k"],"range":["#0000FF","#E000E0","#008000","#C8C800","#FF0000","#404040"]},
     "legend":{"title":null,"labelExpr":"datum.value=='b'?'ST1 ACT V1 toST1 L4C V1 :20130921':datum.value=='m'?'ST1 ACT V1 toST1 L4C V1 :20131003':datum.value=='g'?'ST1 ACT V2 toST1 L4C V2 :20130921':datum.value=='y'?'ST1 ACT V2 toST1 L4C V2 :20131003':datum.value=='r'?'ST1 ACT V3 toST1 L4C V3 :20130921':'ST1 ACT V3 toST1 L4C V3 :20131003'"}},
    "strokeDash":{"field":"s","type":"nominal","scale":{"domain":["b","m","g","y","r","k"],"range":[[1,0],[7,3,2,3],[1,0],[7,3,2,3],[1,0],[7,3,2,3]]},
     "legend":{"title":null,"labelExpr":"datum.value=='b'?'ST1 ACT V1 toST1 L4C V1 :20130921':datum.value=='m'?'ST1 ACT V1 toST1 L4C V1 :20131003':datum.value=='g'?'ST1 ACT V2 toST1 L4C V2 :20130921':datum.value=='y'?'ST1 ACT V2 toST1 L4C V2 :20131003':datum.value=='r'?'ST1 ACT V3 toST1 L4C V3 :20130921':'ST1 ACT V3 toST1 L4C V3 :20131003'"}}
   }
  },
  {
   "data":{"name":"credit"},
   "mark":{"type":"text","angle":270,"align":"left","baseline":"middle","fontSize":9,"font":"Liberation Sans","color":"black","dx":2,"dy":4,"clip":false},
   "encoding":{"x":{"field":"f","type":"quantitative"},"y":{"field":"v","type":"quantitative"},"text":{"field":"t"}}
  }
 ]
}
]
}
